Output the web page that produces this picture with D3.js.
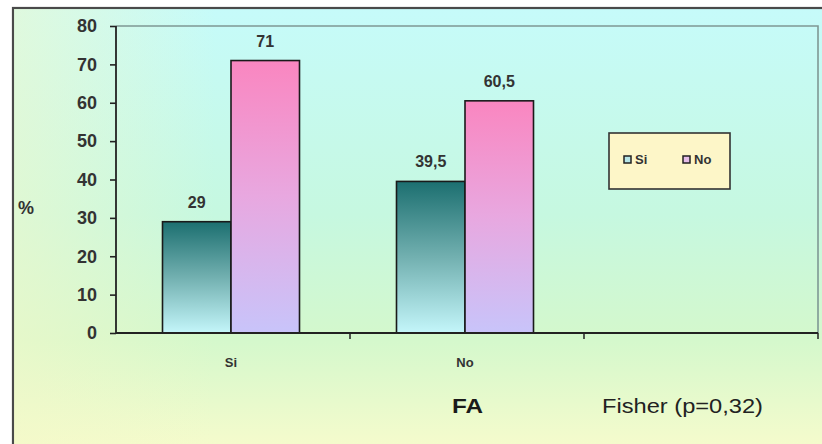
<!DOCTYPE html>
<html><head><meta charset="utf-8">
<script src="https://cdn.jsdelivr.net/npm/d3@7"></script>
<style>html,body{margin:0;padding:0;background:#fff;}svg{display:block;}</style>
</head><body>
<svg id="chart" width="822" height="444"></svg>
<script>
const categories = ["Si", "No", ""];
const seriesNames = ["Si", "No"];
const siValues = [29, 39.5, null];
const noValues = [71, 60.5, null];
const valueLabels = [["29", "39,5"], ["71", "60,5"]];
const yTicks = [0, 10, 20, 30, 40, 50, 60, 70, 80];

const svg = d3.select("#chart");
const defs = svg.append("defs");
const FONT = "Liberation Sans, Arial, sans-serif";

const bg = defs.append("linearGradient").attr("id","bg").attr("x1",0).attr("y1",0).attr("x2",0).attr("y2",1);
bg.append("stop").attr("offset","0%").attr("stop-color","#c6fbfa");
bg.append("stop").attr("offset","45%").attr("stop-color","#c6f8e0");
bg.append("stop").attr("offset","72%").attr("stop-color","#d4f8cc");
bg.append("stop").attr("offset","100%").attr("stop-color","#fcfccc");

const bgL = defs.append("linearGradient").attr("id","bgL").attr("x1",0).attr("y1",0).attr("x2",1).attr("y2",0);
bgL.append("stop").attr("offset","0%").attr("stop-color","#f4f8c8").attr("stop-opacity",0.55);
bgL.append("stop").attr("offset","25%").attr("stop-color","#f4f8c8").attr("stop-opacity",0);

const gSi = defs.append("linearGradient").attr("id","gSi").attr("x1",0).attr("y1",0).attr("x2",0).attr("y2",1);
gSi.append("stop").attr("offset","0%").attr("stop-color","#1c6f70");
gSi.append("stop").attr("offset","50%").attr("stop-color","#72b0b0");
gSi.append("stop").attr("offset","100%").attr("stop-color","#c4f6fa");

const gNo = defs.append("linearGradient").attr("id","gNo").attr("x1",0).attr("y1",0).attr("x2",0).attr("y2",1);
gNo.append("stop").attr("offset","0%").attr("stop-color","#fa86c0");
gNo.append("stop").attr("offset","50%").attr("stop-color","#e8a8e0");
gNo.append("stop").attr("offset","100%").attr("stop-color","#c8c4fa");

// outer frame
svg.append("rect").attr("x",13).attr("y",8).attr("width",822).attr("height",460)
  .attr("fill","url(#bg)").attr("stroke","#4a4a4a").attr("stroke-width",2.2);
svg.append("rect").attr("x",14).attr("y",9).attr("width",808).attr("height",440).attr("fill","url(#bgL)");

const m = {left:116, top:26, right:818, bottom:333};
const x = d3.scaleBand().domain(d3.range(categories.length)).range([m.left, m.right]).padding(0);
const y = d3.scaleLinear().domain([0,80]).range([m.bottom, m.top]);

// plot area border
svg.append("path").attr("d",`M${m.left},${m.top}H${m.right}V${m.bottom}`)
  .attr("fill","none").attr("stroke","#7f9894").attr("stroke-width",1.6);

const inner = d3.scaleBand().domain([0,1]).range([0, 137]);
const groupOffset = (x.bandwidth() - 137)/2 - 2;
const series = [siValues, noValues];
const fills = ["url(#gSi)","url(#gNo)"];

series.forEach((vals, s) => {
  vals.forEach((v, i) => {
    if (v == null) return;
    const bx = x(i) + groupOffset + inner(s);
    svg.append("rect").attr("x", bx).attr("y", y(v)).attr("width", inner.bandwidth())
      .attr("height", y(0) - y(v)).attr("fill", fills[s]).attr("stroke","#1a1a1a").attr("stroke-width",1.6);
    svg.append("text").attr("x", bx + inner.bandwidth()/2).attr("y", y(v) - 14)
      .attr("text-anchor","middle").attr("font-family",FONT)
      .attr("font-weight","bold").attr("font-size",16).attr("fill","#333").text(valueLabels[s][i]);
  });
});

// y axis
const yAxis = d3.axisLeft(y).tickValues(yTicks).tickSize(6).tickPadding(13);
const ya = svg.append("g").attr("transform",`translate(${m.left},0)`).call(yAxis);
ya.selectAll(".domain").attr("stroke","#222").attr("stroke-width",1.8).attr("d",`M0,${m.bottom}V${m.top}`);
ya.selectAll(".tick line").attr("stroke","#222").attr("stroke-width",1.6);
ya.selectAll(".tick text").attr("font-family",FONT).attr("font-weight","bold")
  .attr("font-size",18).attr("fill","#333");

// x axis
const xa = svg.append("g").attr("transform",`translate(0,${m.bottom})`);
xa.append("line").attr("x1",m.left).attr("x2",m.right).attr("y1",0).attr("y2",0).attr("stroke","#222").attr("stroke-width",1.8);
const bounds = categories.map((c,i)=>x(i)+x.bandwidth());
xa.selectAll("line.t").data(bounds).join("line").attr("class","t")
  .attr("x1",d=>d).attr("x2",d=>d).attr("y1",0).attr("y2",6).attr("stroke","#222").attr("stroke-width",1.5);
xa.selectAll("text").data(categories).join("text")
  .attr("x",(d,i)=>x(i)+groupOffset+137/2).attr("y",34)
  .attr("text-anchor","middle").attr("font-family",FONT)
  .attr("font-weight","bold").attr("font-size",13).attr("fill","#333").text(d=>d);

// % label
svg.append("text").attr("x",18).attr("y",214).attr("font-family",FONT)
  .attr("font-weight","bold").attr("font-size",18).attr("fill","#333").text("%");

// FA title + Fisher note
svg.append("text").attr("x",452).attr("y",413).attr("font-family",FONT)
  .attr("font-weight","bold").attr("font-size",21).attr("fill","#1a1a1a")
  .attr("textLength",31).attr("lengthAdjust","spacingAndGlyphs").text("FA");
svg.append("text").attr("x",602).attr("y",413).attr("font-family",FONT)
  .attr("font-size",21).attr("fill","#222")
  .attr("textLength",161).attr("lengthAdjust","spacingAndGlyphs").text("Fisher (p=0,32)");

// legend
const lg = svg.append("g").attr("transform","translate(609,133)");
lg.append("rect").attr("width",121).attr("height",56).attr("fill","#fdf6c8").attr("stroke","#333").attr("stroke-width",1.6);
const legFill = ["#b6e6e8","#e4bce8"];
const legX = [15, 74];
seriesNames.forEach((n,i)=>{
  lg.append("rect").attr("x",legX[i]).attr("y",23).attr("width",7).attr("height",7)
    .attr("fill",legFill[i]).attr("stroke","#222").attr("stroke-width",1.5);
  lg.append("text").attr("x",legX[i]+11).attr("y",31).attr("font-family",FONT)
    .attr("font-weight","bold").attr("font-size",13).attr("fill","#333").text(n);
});
</script>
</body></html>
